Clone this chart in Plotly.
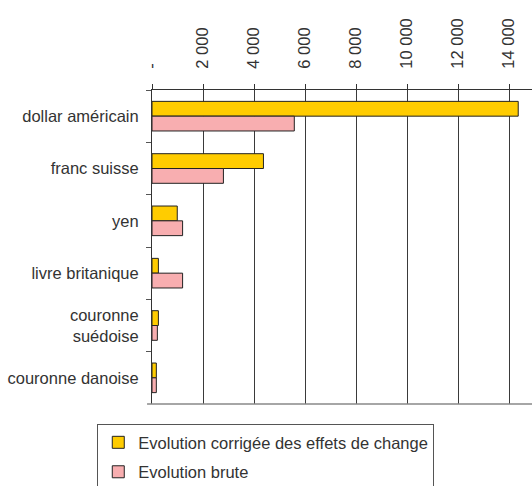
import plotly.graph_objects as go

categories = ["dollar américain", "franc suisse", "yen", "livre britanique",
              "couronne<br>suédoise", "couronne danoise"]
corrigee = [14360, 4370, 990, 250, 250, 170]
brute = [5580, 2800, 1200, 1200, 210, 170]
tick_vals = [0, 2000, 4000, 6000, 8000, 10000, 12000, 14000]
tick_text = ["-", "2 000", "4 000", "6 000", "8 000", "10 000", "12 000", "14 000"]

FONT = "Liberation Sans, Arial, sans-serif"
DARK = "#333333"

fig = go.Figure()
fig.add_trace(go.Bar(
    y=categories, x=corrigee, orientation="h",
    name="Evolution corrigée des effets de change",
    legendgroup="a",
    marker=dict(color="#FFCC00", line=dict(color="#222222", width=1)),
))
fig.add_trace(go.Bar(
    y=categories, x=brute, orientation="h",
    name="Evolution brute",
    legendgroup="b",
    marker=dict(color="#F8AEB0", line=dict(color="#222222", width=1)),
))

fig.update_layout(
    width=532, height=486,
    margin=dict(l=152, r=0, t=90, b=82, autoexpand=False),
    paper_bgcolor="white", plot_bgcolor="white",
    barmode="group", bargap=0.434, bargroupgap=0,
    font=dict(family=FONT, size=16.5, color=DARK),
    showlegend=True,
    legend=dict(
        x=-0.144, y=-0.064, xanchor="left", yanchor="top",
        bordercolor="#555555", borderwidth=1, bgcolor="white",
        font=dict(family=FONT, size=16.5, color=DARK),
        traceorder="grouped", tracegroupgap=5,
    ),
    xaxis=dict(
        side="top", range=[0, 14900],
        tickvals=tick_vals, ticktext=tick_text, tickangle=-90,
        ticks="outside", ticklen=5, tickcolor=DARK, tickwidth=1,
        showline=True, linecolor=DARK, linewidth=1,
        showgrid=True, gridcolor="#3a3a3a", gridwidth=1,
        zeroline=False, ticklabelstandoff=12, automargin=False,
    ),
    yaxis=dict(
        categoryorder="array", categoryarray=categories,
        autorange="reversed",
        tickson="boundaries", ticks="outside", ticklen=5,
        tickcolor="#555555", tickwidth=1,
        showline=True, linecolor=DARK, linewidth=1,
        showgrid=False, zeroline=False,
        ticklabelstandoff=9, automargin=False,
    ),
    shapes=[dict(type="line", xref="paper", yref="paper",
                 x0=-0.013, x1=1, y0=0, y1=0,
                 line=dict(color="#888888", width=1.5))],
)

fig.write_html(
    "out.html",
    config={"displayModeBar": False},
    post_script="document.body.style.margin='0';document.body.style.overflow='hidden';",
)
